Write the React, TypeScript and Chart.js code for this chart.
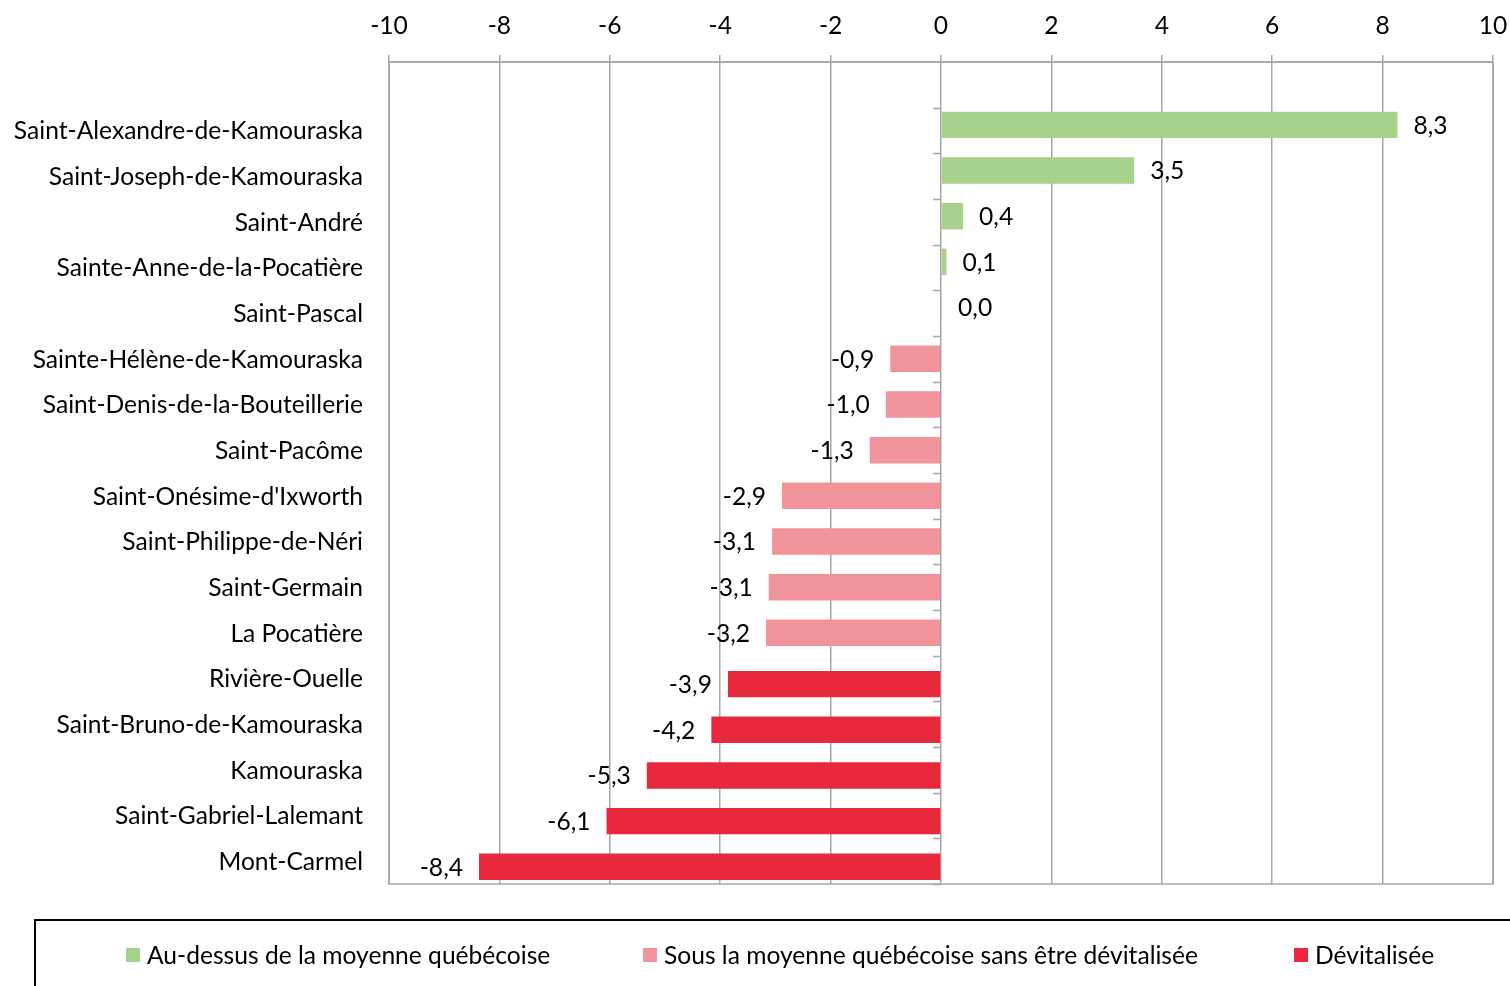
import React, { useEffect, useRef } from 'react';
import { Chart, registerables } from 'chart.js';

Chart.register(...registerables);

const categories: string[] = [
  '',
  'Saint-Alexandre-de-Kamouraska',
  'Saint-Joseph-de-Kamouraska',
  'Saint-André',
  'Sainte-Anne-de-la-Pocatière',
  'Saint-Pascal',
  'Sainte-Hélène-de-Kamouraska',
  'Saint-Denis-de-la-Bouteillerie',
  'Saint-Pacôme',
  "Saint-Onésime-d'Ixworth",
  'Saint-Philippe-de-Néri',
  'Saint-Germain',
  'La Pocatière',
  'Rivière-Ouelle',
  'Saint-Bruno-de-Kamouraska',
  'Kamouraska',
  'Saint-Gabriel-Lalemant',
  'Mont-Carmel',
];

const aboveValues: (number | null)[] = [
  null, 8.27, 3.5, 0.4, 0.1, 0.02,
  null, null, null, null, null, null, null, null, null, null, null, null,
];
const belowValues: (number | null)[] = [
  null, null, null, null, null, null,
  -0.92, -1.0, -1.29, -2.88, -3.06, -3.12, -3.17,
  null, null, null, null, null,
];
const devitalizedValues: (number | null)[] = [
  null, null, null, null, null, null, null, null, null, null, null, null, null,
  -3.86, -4.16, -5.33, -6.06, -8.37,
];

const xTickMin = -10;
const xTickMax = 10;
const xTickStep = 2;

const legendLabels = [
  'Au-dessus de la moyenne québécoise',
  'Sous la moyenne québécoise sans être dévitalisée',
  'Dévitalisée',
];
const seriesColors = ['#A9D18E', '#F1939B', '#E8283C'];

const FONT = 'Lato, "Open Sans", sans-serif';
const FONT_SIZE = 24.6;

const frameAndTicks = {
  id: 'frameAndTicks',
  afterDraw(chart: any) {
    const { ctx, chartArea, scales } = chart;
    const x = scales.x;
    const y = scales.y;
    ctx.save();
    ctx.strokeStyle = '#A6A6A6';
    ctx.lineWidth = 1.5;
    ctx.strokeRect(chartArea.left, chartArea.top, chartArea.right - chartArea.left, chartArea.bottom - chartArea.top);
    const zx = x.getPixelForValue(0);
    const band = y.getPixelForValue(1) - y.getPixelForValue(0);
    ctx.beginPath();
    for (let i = 1; i <= categories.length; i++) {
      const by = Math.round(y.getPixelForValue(i) - band / 2) + 0.5;
      ctx.moveTo(zx - 8, by);
      ctx.lineTo(zx, by);
    }
    ctx.stroke();
    ctx.restore();
  },
};

const valueLabels = {
  id: 'valueLabels',
  afterDraw(chart: any) {
    const ctx = chart.ctx;
    ctx.save();
    ctx.font = `${FONT_SIZE}px ${FONT}`;
    ctx.fillStyle = '#000000';
    ctx.textBaseline = 'middle';
    chart.data.datasets.forEach((ds: any, di: number) => {
      const meta = chart.getDatasetMeta(di);
      meta.data.forEach((el: any, i: number) => {
        const v = ds.data[i];
        if (v === null || v === undefined) return;
        const p = el.getProps(['x', 'y'], true);
        const txt = v.toFixed(1).replace('.', ',');
        if (v >= 0) {
          ctx.textAlign = 'left';
          ctx.fillText(txt, p.x + 16, p.y + 1);
        } else {
          ctx.textAlign = 'right';
          ctx.fillText(txt, p.x - 16, p.y + 1);
        }
      });
    });
    ctx.restore();
  },
};

export default function App() {
  const canvasRef = useRef<HTMLCanvasElement | null>(null);

  useEffect(() => {
    if (!canvasRef.current) return;
    const barOpts = {
      categoryPercentage: 0.37,
      barPercentage: 4.7,
      borderWidth: 0,
    };
    const chart = new Chart(canvasRef.current, {
      type: 'bar',
      data: {
        labels: categories,
        datasets: [
          { label: legendLabels[0], data: aboveValues, backgroundColor: seriesColors[0], ...barOpts },
          { label: legendLabels[1], data: belowValues, backgroundColor: seriesColors[1], ...barOpts },
          { label: legendLabels[2], data: devitalizedValues, backgroundColor: seriesColors[2], ...barOpts },
        ],
      },
      options: {
        indexAxis: 'y',
        animation: false,
        responsive: false,
        maintainAspectRatio: false,
        layout: { padding: { left: 0, top: 0, right: 17, bottom: 102 } },
        plugins: {
          legend: { display: false },
          tooltip: { enabled: false },
        },
        scales: {
          x: {
            position: 'top',
            min: xTickMin,
            max: xTickMax,
            ticks: {
              stepSize: xTickStep,
              color: '#000000',
              font: { family: FONT, size: FONT_SIZE },
              padding: 14,
              callback: (v: any) => String(v),
            },
            grid: {
              color: '#A6A6A6',
              lineWidth: 1.5,
              tickLength: 7,
              drawTicks: true,
            },
            border: { display: true, color: '#A6A6A6', width: 1.5 },
            afterFit: (s: any) => {
              s.height = 62;
              s.paddingLeft = 0;
              s.paddingRight = 0;
            },
          },
          y: {
            type: 'category',
            offset: true,
            ticks: {
              color: '#000000',
              font: { family: FONT, size: FONT_SIZE },
              padding: 26,
              autoSkip: false,
              labelOffset: 1,
            },
            grid: { display: false, drawTicks: false },
            border: { display: false },
            afterFit: (s: any) => {
              s.width = 389;
            },
          },
        },
      },
      plugins: [frameAndTicks, valueLabels],
    });
    return () => chart.destroy();
  }, []);

  const legendItemStyle: React.CSSProperties = {
    position: 'absolute',
    top: 941,
    display: 'flex',
    alignItems: 'center',
    fontFamily: FONT,
    fontSize: FONT_SIZE,
    color: '#000000',
    whiteSpace: 'nowrap',
    lineHeight: '28px',
  };
  const swatch = (c: string): React.CSSProperties => ({
    width: 14,
    height: 14,
    background: c,
    marginRight: 7,
    flex: '0 0 auto',
  });
  const legendX = [126, 643, 1294];

  return (
    <div
      style={{
        position: 'fixed',
        left: 0,
        top: 0,
        width: 1510,
        height: 986,
        overflow: 'hidden',
        background: '#ffffff',
      }}
    >
      <canvas ref={canvasRef} width={1510} height={986} style={{ position: 'absolute', left: 0, top: 0 }} />
      <div
        style={{
          position: 'absolute',
          left: 34,
          top: 919,
          width: 1520,
          height: 120,
          border: '2px solid #000000',
          boxSizing: 'border-box',
        }}
      />
      {legendLabels.map((t, i) => (
        <div key={t} style={{ ...legendItemStyle, left: legendX[i] }}>
          <span style={swatch(seriesColors[i])} />
          <span>{t}</span>
        </div>
      ))}
    </div>
  );
}
